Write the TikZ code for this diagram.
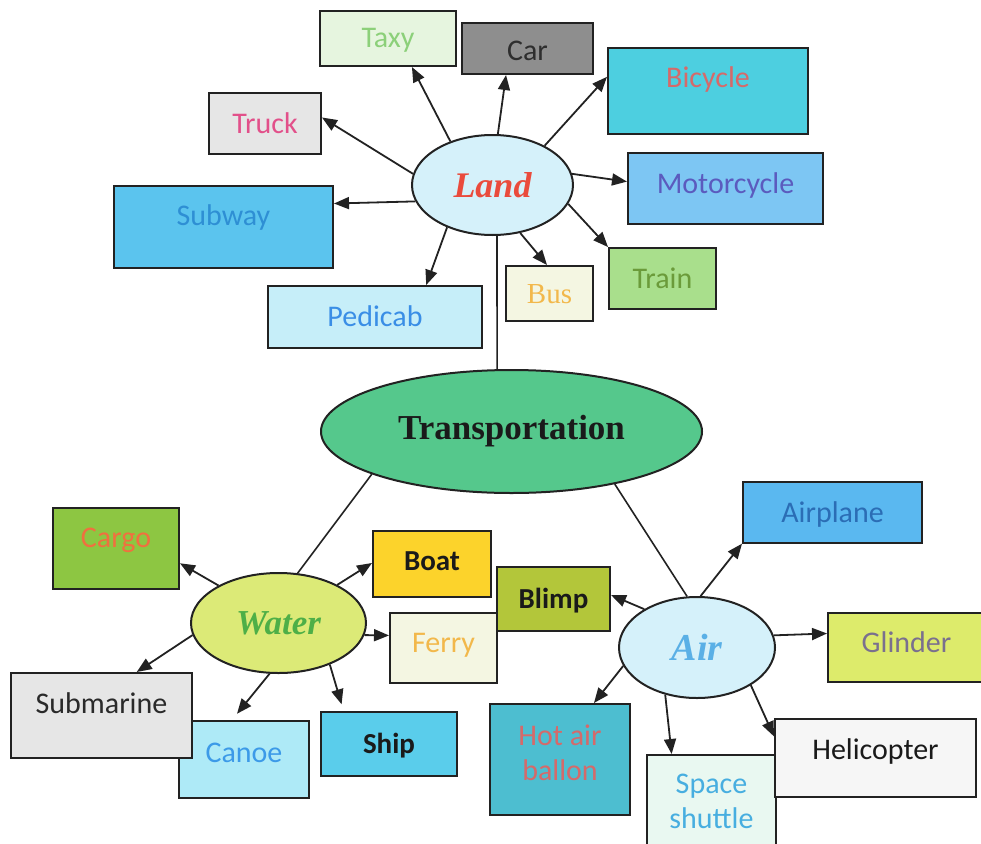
\documentclass[tikz,border=0pt]{standalone}
\usepackage{fontspec}
\setmainfont{Carlito}
\newfontfamily\serifface{Liberation Serif}
\usetikzlibrary{arrows.meta,shapes.geometric}
\definecolor{edge}{HTML}{222222}
\definecolor{ink}{HTML}{1A1A1A}
\definecolor{transF}{HTML}{55C88C}
\definecolor{paleblueF}{HTML}{D5F1FA}
\definecolor{landT}{HTML}{EA4B3C}
\definecolor{waterF}{HTML}{DCEA77}
\definecolor{waterT}{HTML}{4EAF47}
\definecolor{airT}{HTML}{5AB0E6}
\definecolor{taxyF}{HTML}{E6F5DF}\definecolor{taxyT}{HTML}{8CD07A}
\definecolor{carF}{HTML}{8E8E8E}\definecolor{carT}{HTML}{2E2E2E}
\definecolor{bicF}{HTML}{4DCFE0}\definecolor{rosyT}{HTML}{D56A6A}
\definecolor{motoF}{HTML}{7DC6F3}\definecolor{motoT}{HTML}{5B5BBE}
\definecolor{trainF}{HTML}{A9DF8C}\definecolor{trainT}{HTML}{6B9B3A}
\definecolor{creamF}{HTML}{F4F6E2}\definecolor{orangeT}{HTML}{F2B84B}
\definecolor{grayF}{HTML}{E6E6E6}\definecolor{truckT}{HTML}{E2508A}
\definecolor{subwayF}{HTML}{5BC4EE}\definecolor{subwayT}{HTML}{2E8FD4}
\definecolor{pedF}{HTML}{C6EEF9}\definecolor{pedT}{HTML}{3A8EE6}
\definecolor{cargoF}{HTML}{8DC642}\definecolor{cargoT}{HTML}{F0703F}
\definecolor{boatF}{HTML}{FCD32B}
\definecolor{canoeF}{HTML}{AEEAF7}\definecolor{canoeT}{HTML}{3C9AE8}
\definecolor{subT}{HTML}{2A2A2A}
\definecolor{shipF}{HTML}{5ACDEB}
\definecolor{planeF}{HTML}{5AB8F0}\definecolor{planeT}{HTML}{2B6DB5}
\definecolor{blimpF}{HTML}{B3C63A}
\definecolor{glindF}{HTML}{DDEB6B}\definecolor{glindT}{HTML}{7A708E}
\definecolor{hotF}{HTML}{4DBED0}
\definecolor{shutF}{HTML}{E9F8F1}\definecolor{shutT}{HTML}{47AEE0}
\definecolor{heliF}{HTML}{F6F6F6}
\begin{document}
\begin{tikzpicture}[x=1pt,y=-1pt,
  box/.style={draw=edge,line width=2pt,rectangle,inner sep=0pt,align=center,
    text height=20pt,text depth=1pt,font=\fontsize{30}{35}\selectfont},
  twoline/.style={draw=edge,line width=2pt,rectangle,inner sep=0pt,align=center,
    font=\fontsize{30}{35}\selectfont},
  oval/.style={draw=edge,line width=2pt,ellipse,inner sep=0pt},
  arr/.style={draw=edge,line width=1.8pt,-{Triangle[length=15pt,width=12pt]}},
  link/.style={draw=edge,line width=1.6pt}]
\useasboundingbox (0,0) rectangle (981,843);

% central ellipses
\node[oval,fill=transF,minimum width=381pt,minimum height=123pt,
  font=\serifface\bfseries\fontsize{35}{40}\selectfont,text=ink]
  (trans) at (511.5,431.5) {Transportation};
\node[oval,fill=paleblueF,minimum width=161pt,minimum height=100pt,
  font=\serifface\bfseries\itshape\fontsize{36}{40}\selectfont,text=landT]
  (land) at (492.5,185) {Land};
\node[oval,fill=waterF,minimum width=175pt,minimum height=100pt,
  font=\serifface\bfseries\itshape\fontsize{35}{40}\selectfont,text=waterT]
  (water) at (278.5,623) {Water};
\node[oval,fill=paleblueF,minimum width=156pt,minimum height=101pt,
  font=\serifface\bfseries\itshape\fontsize{38}{42}\selectfont,text=airT]
  (air) at (697,647.5) {Air};

% land boxes
\node[box,fill=taxyF,text=taxyT,minimum width=136pt,minimum height=55pt] (taxy) at (388,38.5) {Taxy};
\node[box,fill=carF,text=carT,minimum width=131pt,minimum height=51pt,text height=25pt] (car) at (527.5,48.5) {Car};
\node[box,fill=bicF,text=rosyT,minimum width=200pt,minimum height=86pt,text depth=27pt] (bicycle) at (708,91) {Bicycle};
\node[box,fill=motoF,text=motoT,minimum width=195pt,minimum height=71pt,text depth=11pt] (motorcycle) at (725.5,188.5) {Motorcycle};
\node[box,fill=trainF,text=trainT,minimum width=107pt,minimum height=61pt] (train) at (662.5,278.5) {Train};
\node[box,fill=creamF,text=orangeT,minimum width=87pt,minimum height=55pt,font=\serifface\fontsize{29}{34}\selectfont] (bus) at (549.5,293.5) {Bus};
\node[box,fill=grayF,text=truckT,minimum width=112pt,minimum height=61pt] (truck) at (265,123.5) {Truck};
\node[box,fill=subwayF,text=subwayT,minimum width=219pt,minimum height=82pt,text depth=23pt] (subway) at (223.5,227) {Subway};
\node[box,fill=pedF,text=pedT,minimum width=214pt,minimum height=62pt] (pedicab) at (375,317) {Pedicab};

% water boxes
\node[box,fill=cargoF,text=cargoT,minimum width=126pt,minimum height=81pt,text depth=23pt] (cargo) at (116,548.5) {Cargo};
\node[box,fill=boatF,text=ink,minimum width=118pt,minimum height=66pt,text depth=7pt,font=\bfseries\fontsize{29}{35}\selectfont] (boat) at (432,564) {Boat};
\node[box,fill=creamF,text=orangeT,minimum width=107pt,minimum height=70pt,text depth=11pt] (ferry) at (443.5,648) {Ferry};
\node[box,fill=canoeF,text=canoeT,minimum width=130pt,minimum height=77pt,text depth=15pt] (canoe) at (244,759.5) {Canoe};
\node[box,fill=grayF,text=subT,minimum width=181pt,minimum height=85pt,text depth=25pt] (submarine) at (101.5,715.5) {Submarine};
\node[box,fill=shipF,text=ink,minimum width=136pt,minimum height=64pt,font=\bfseries\fontsize{29}{35}\selectfont] (ship) at (389,744) {Ship};

% air boxes
\node[box,fill=planeF,text=planeT,minimum width=179pt,minimum height=61pt] (airplane) at (832.5,512.5) {Airplane};
\node[box,fill=blimpF,text=ink,minimum width=113pt,minimum height=64pt,font=\bfseries\fontsize{29}{35}\selectfont] (blimp) at (553.5,599) {Blimp};
\node[box,fill=glindF,text=glindT,minimum width=157pt,minimum height=69pt,text depth=11pt] (glinder) at (906.5,647.5) {Glinder};
\node[twoline,fill=hotF,text=rosyT,minimum width=140pt,minimum height=111pt,text depth=14pt] (hotair) at (560,759.5) {Hot air\\ballon};
\node[twoline,fill=shutF,text=shutT,minimum width=129pt,minimum height=93pt] (shuttle) at (711.5,801.5) {Space\\shuttle};
\node[box,fill=heliF,text=ink,minimum width=201pt,minimum height=78pt,text depth=17pt] (helicopter) at (875.5,758) {Helicopter};

% plain links
\draw[link] (land.-85) -- (trans.103);
\draw[link] (trans.197.5) -- (water.69);
\draw[link] (trans.-27) -- (air.101);

% land arrows
\draw[arr] (land.134) -- (taxy.-50);
\draw[arr] (land.84.5) -- (car.-129);
\draw[arr] (land.37.5) -- (bicycle.172);
\draw[arr] (land.8.6) -- (motorcycle.176.8);
\draw[arr] (land.-14.2) -- (train.150);
\draw[arr] (land.-60) -- (bus.95);
\draw[arr] (land.172) -- (truck.6.6);
\draw[arr] (land.192.7) -- (subway.12.4);
\draw[arr] (land.-137) -- (pedicab.32.6);

% water arrows
\draw[arr] (water.148.4) -- (cargo.-13.6);
\draw[arr] (water.33.2) -- (boat.179);
\draw[arr] (water.-8.5) -- (ferry.167.4);
\draw[arr] (water.188.6) -- (submarine.51.8);
\draw[arr,shorten >=8pt] (water.-100.8) -- (canoe.107.3);
\draw[arr,shorten >=7pt] (water.-39.5) -- (ship.144);

% air arrows
\draw[arr] (air.86.7) -- (airplane.-161);
\draw[arr] (air.144) -- (blimp.4);
\draw[arr] (air.9.8) -- (glinder.170.2);
\draw[arr] (air.194.2) -- (hotair.59.3);
\draw[arr] (air.-124.7) -- (shuttle.130.3);
\draw[arr] (air.-35.7) -- (helicopter.168.2);
\end{tikzpicture}
\end{document}
